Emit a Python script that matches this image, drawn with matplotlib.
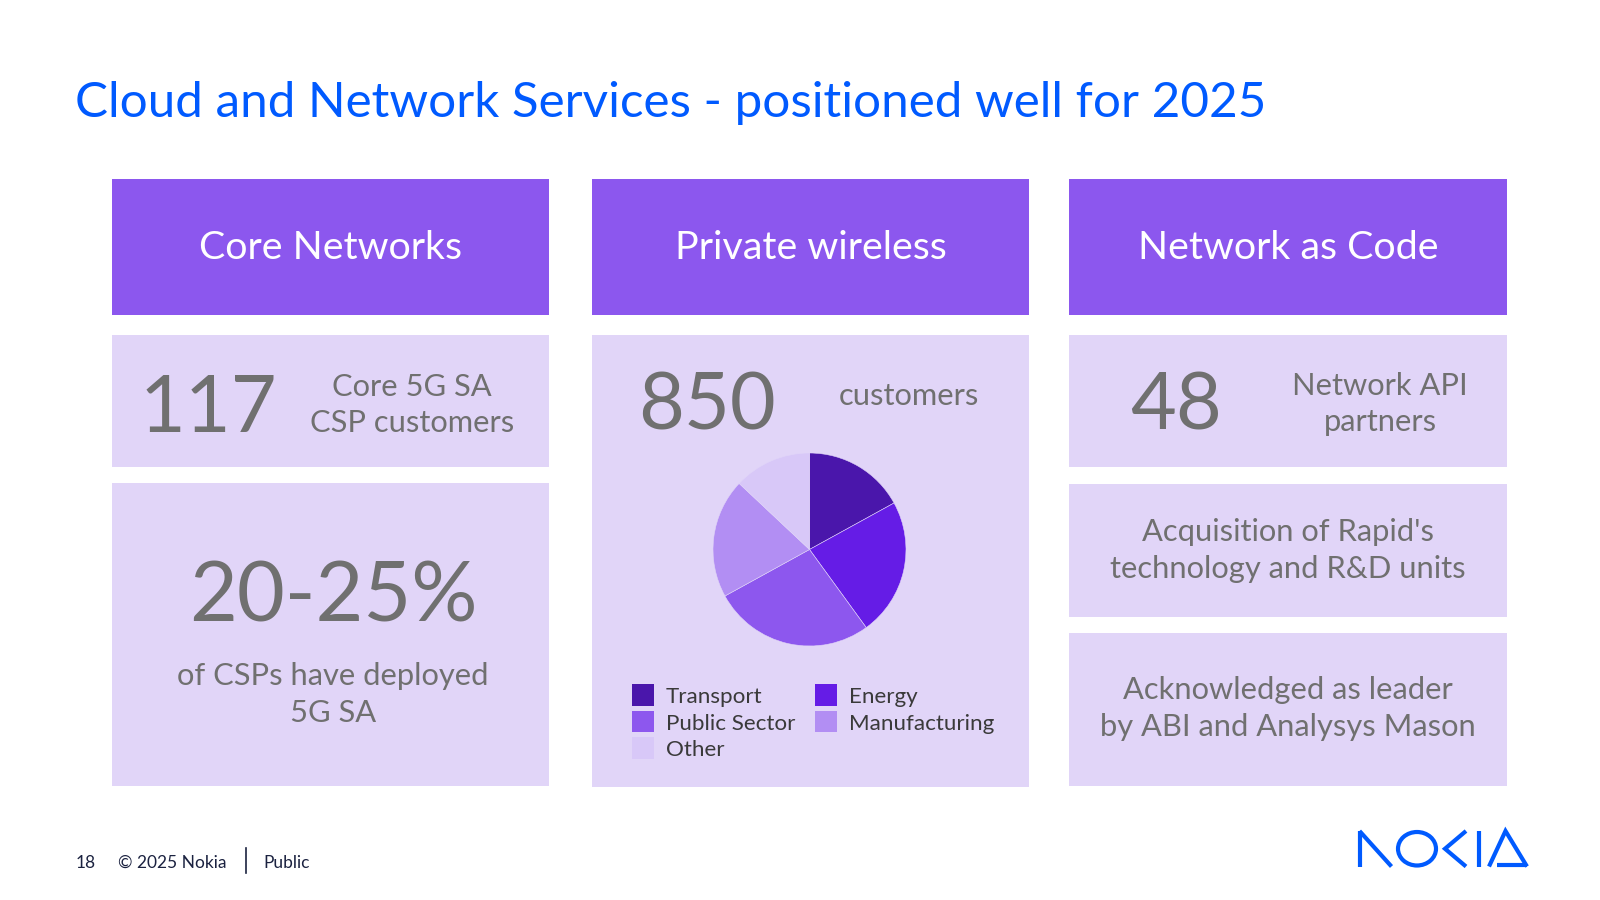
import matplotlib
matplotlib.use("Agg")
import matplotlib.pyplot as plt
from matplotlib.patches import Rectangle, Ellipse
from matplotlib.lines import Line2D

# ---------------- data ----------------
title = "Cloud and Network Services - positioned well for 2025"
headers = ["Core Networks", "Private wireless", "Network as Code"]
core_value = "117"
core_label = ["Core 5G SA", "CSP customers"]
core_share = "20-25%"
core_share_label = ["of CSPs have deployed", "5G SA"]
pw_value = "850"
pw_label = "customers"
segments = ["Transport", "Energy", "Public Sector", "Manufacturing", "Other"]
shares = [17, 23, 27, 20, 13]
seg_colors = ["#4A16AB", "#651CE6", "#8D57EE", "#B28EF3", "#D8C8F8"]
nac_value = "48"
nac_label = ["Network API", "partners"]
nac_box2 = ["Acquisition of Rapid's", "technology and R&D units"]
nac_box3 = ["Acknowledged as leader", "by ABI and Analysys Mason"]
footer_page = "18"
footer_copy = "\u00a9 2025 Nokia"
footer_class = "Public"

# ---------------- style ----------------
FONT = ["Lato", "DejaVu Sans"]
plt.rcParams["font.family"] = FONT
BLUE = "#005AFF"
HEAD = "#8C57EE"
CARD = "#E1D5F8"
GRAY = "#707070"
DARK = "#3A3A3A"
NAVY = "#1B2240"
BODY = 22.2
BIG = 57

fig = plt.figure(figsize=(16, 9), dpi=100)
ax = fig.add_axes([0, 0, 1, 1])
ax.set_xlim(0, 1600)
ax.set_ylim(900, 0)
ax.axis("off")

def box(x0, y0, x1, y1, color):
    ax.add_patch(Rectangle((x0, y0), x1 - x0, y1 - y0, facecolor=color, edgecolor="none", zorder=1))

def txt(x, y, s, size, color=GRAY, ha="center", **kw):
    ax.text(x, y, s, fontsize=size, color=color, ha=ha, va="baseline", zorder=3, **kw)

# title
txt(75, 117, title, 35.6, color=BLUE, ha="left")

cols = [(112, 549), (592, 1029), (1069, 1507)]
# headers
for (x0, x1), h in zip(cols, headers):
    box(x0, 179, x1, 315, HEAD)
    txt((x0 + x1) / 2, 259, h, 28.4, color="white")

# column 1
box(112, 335, 549, 467, CARD)
box(112, 483, 549, 786, CARD)
txt(140, 432.5, core_value, BIG, ha="left")
txt(412, 395.5, core_label[0], BODY)
txt(412, 431.5, core_label[1], BODY)
txt(333, 621.5, core_share, 59.5)
txt(333, 685, core_share_label[0], BODY)
txt(333, 722, core_share_label[1], BODY)

# column 2
box(592, 335, 1029, 787, CARD)
txt(638, 429.5, pw_value, BIG, ha="left")
txt(909, 405, pw_label, BODY)

# pie
cx, cy, r = 809.5, 549.5, 96.5
pax = fig.add_axes([(cx - r) / 1600, 1 - (cy + r) / 900, 2 * r / 1600, 2 * r / 900])
pax.pie(shares, colors=seg_colors, startangle=90, counterclock=False, radius=1,
        wedgeprops=dict(edgecolor=CARD, linewidth=0.4))
pax.set_xlim(-1, 1)
pax.set_ylim(-1, 1)
pax.set_aspect("auto")
pax.axis("off")

# legend (column-major order as in the reference)
legend_order = [0, 2, 4, 1, 3]
leg_pos = [(632, 684), (632, 710.5), (632, 737), (815, 684), (815, 710.5)]
for idx, (lx, ly) in zip(legend_order, leg_pos):
    box(lx, ly, lx + 22, ly + 21.5, seg_colors[idx])
    txt(lx + 34, ly + 19, segments[idx], 16.1, color=DARK, ha="left")

# column 3
box(1069, 335, 1507, 467, CARD)
box(1069, 484, 1507, 617, CARD)
box(1069, 633, 1507, 786, CARD)
txt(1130, 429.5, nac_value, BIG, ha="left")
txt(1380, 395, nac_label[0], BODY)
txt(1380, 431.5, nac_label[1], BODY)
txt(1288, 541, nac_box2[0], BODY)
txt(1288, 578, nac_box2[1], BODY)
txt(1288, 699, nac_box3[0], BODY)
txt(1288, 736, nac_box3[1], BODY)

# footer
txt(76, 867.5, footer_page, 12.5, color=NAVY, ha="left")
txt(118, 867.5, footer_copy, 12.5, color=NAVY, ha="left")
ax.add_line(Line2D([245.5, 245.5], [848, 873], color=NAVY, linewidth=1.2))
txt(263, 867.5, footer_class, 12.5, color=NAVY, ha="left")

# Nokia logo drawn as strokes
lw = 3.0
top, bot = 831, 866.5
def seg(xs, ys):
    ax.add_line(Line2D(xs, ys, color=BLUE, linewidth=lw, solid_capstyle="butt", solid_joinstyle="miter", zorder=3))
seg([1359.5, 1359.5], [bot, top])
seg([1359.5, 1391.5], [top, bot])
ax.add_patch(Ellipse((1417, (top + bot) / 2), 38, 33.5, facecolor="none", edgecolor=BLUE, linewidth=lw, zorder=3))
seg([1466, 1445, 1466], [top, (top + bot) / 2, bot])
seg([1478.5, 1478.5], [top, bot])
seg([1489, 1505.5, 1527], [bot, top, bot])
seg([1497, 1527], [bot - 1.5, bot - 1.5])

fig.savefig("out.png", dpi=100, facecolor="white")
